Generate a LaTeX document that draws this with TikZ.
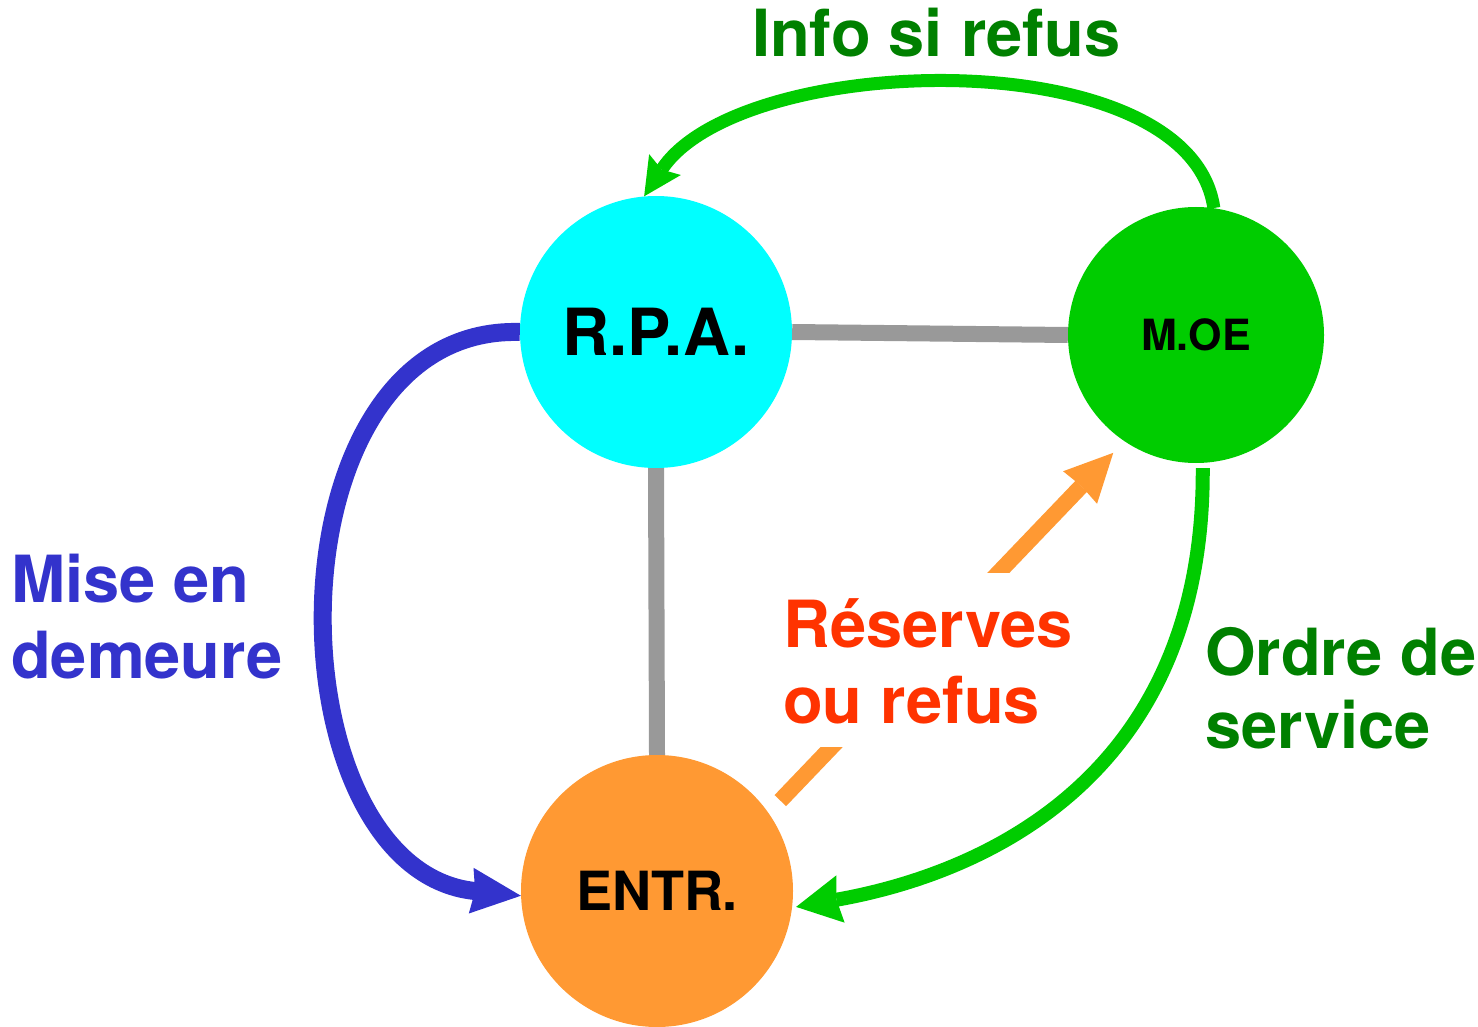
\documentclass[tikz,border=0pt]{standalone}
\usepackage{fontspec}
\setmainfont{TeX Gyre Heros}
\usetikzlibrary{arrows.meta}

\definecolor{rpacyan}{RGB}{0,255,255}
\definecolor{moegreen}{RGB}{0,204,0}
\definecolor{entrorange}{RGB}{255,153,51}
\definecolor{linkgray}{RGB}{153,153,153}
\definecolor{warnblue}{RGB}{51,51,204}
\definecolor{textgreen}{RGB}{0,128,0}
\definecolor{textred}{RGB}{255,51,0}

\begin{document}
\begin{tikzpicture}[
  x=1pt, y=-1pt,
  actor/.style={circle, inner sep=0pt, text=black, font=\bfseries},
  link/.style={draw=linkgray, line width=16pt},
  % two-line captions, placed by the baseline of their last line
  caption/.style={inner sep=0pt, anchor=base west, align=left,
    font=\bfseries\fontsize{65}{76}\selectfont},
]
\useasboundingbox (0,0) rectangle (1478,1027);

% the three parties
\node[actor, fill=rpacyan, minimum size=272pt,
      font=\bfseries\fontsize{65}{70}\selectfont] (rpa) at (656,332) {R.P.A.};
\node[actor, fill=moegreen, minimum size=256pt,
      font=\bfseries\fontsize{43}{48}\selectfont] (moe) at (1196,335) {M.OE};
\node[actor, fill=entrorange, minimum size=272pt,
      font=\bfseries\fontsize{54}{60}\selectfont] (entr) at (657,891) {ENTR.};

% plain links
\draw[link] (rpa.east) -- (moe.west);
\draw[link] (rpa.south) -- (entr.north);

% reserves or refusal: contractor -> project manager
\draw[draw=entrorange, line width=16pt,
      -{Stealth[length=48pt, width=47pt, inset=2pt, line width=0pt]},
      shorten <=17pt, shorten >=16pt] (entr.35) -- (moe.236);
\node[caption, text=textred, fill=white, text height=150pt, text depth=24pt]
  (reserves) at (783,723) {Réserves\\ou refus};

% formal notice: owner -> contractor
\draw[draw=warnblue, line width=18pt,
      -{Stealth[length=50pt, width=46pt, inset=4pt, line width=0pt]}]
  (rpa.west) .. controls +(-258,-7) and +(-253,-26) .. (entr.182);
\node[caption, text=warnblue] (mise) at (11,678) {Mise en\\demeure};

% information on refusal: project manager -> owner
\draw[draw=moegreen, line width=13pt,
      -{Stealth[length=38pt, width=38pt, inset=6pt, line width=0pt]}]
  (moe.82) .. controls +(-24,-169) and +(96,-146) .. (rpa.95);
\node[caption, text=textgreen] (info) at (752,57) {Info si refus};

% service order: project manager -> contractor
\draw[draw=moegreen, line width=14pt,
      -{Stealth[length=45pt, width=48pt, inset=4pt, line width=0pt]},
      shorten <=5pt, shorten >=4pt]
  (moe.-87) .. controls +(2,337) and +(158,-28) .. (entr.-7);
\node[caption, text=textgreen, font=\bfseries\fontsize{65}{73}\selectfont]
  (ordre) at (1205,748) {Ordre de\\service};
\end{tikzpicture}
\end{document}
